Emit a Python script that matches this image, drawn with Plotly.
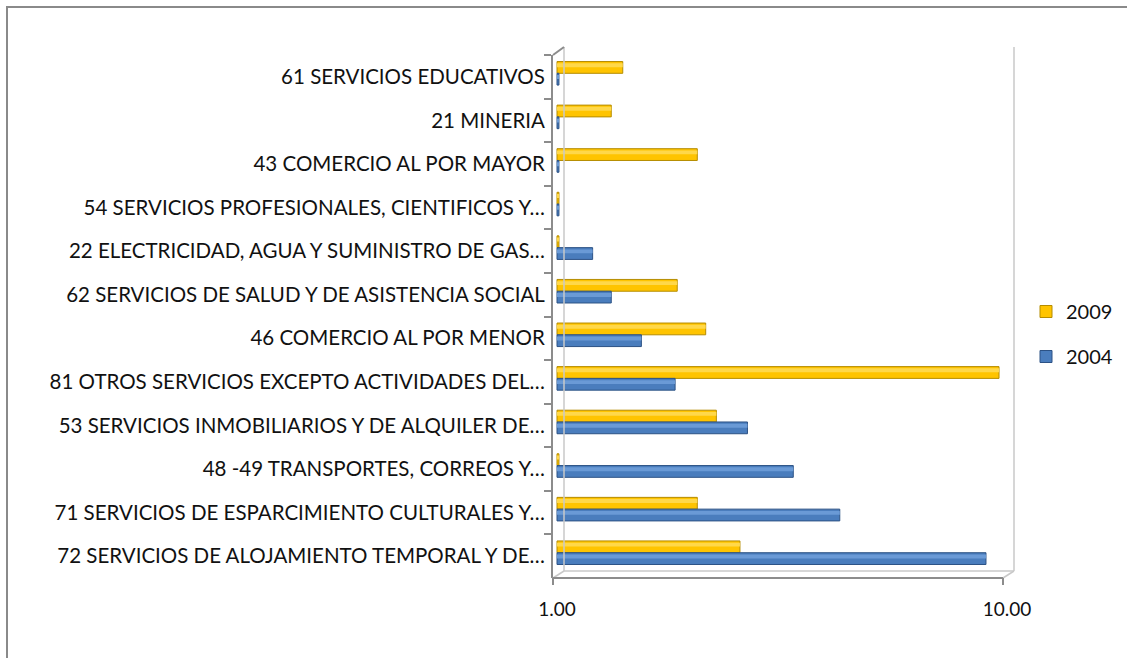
import plotly.graph_objects as go

# Sectors, listed top to bottom
categories = [
    "61 SERVICIOS EDUCATIVOS",
    "21 MINERIA",
    "43 COMERCIO AL POR MAYOR",
    "54 SERVICIOS PROFESIONALES, CIENTIFICOS Y…",
    "22 ELECTRICIDAD, AGUA Y SUMINISTRO DE GAS…",
    "62 SERVICIOS DE SALUD Y DE ASISTENCIA SOCIAL",
    "46 COMERCIO AL POR MENOR",
    "81 OTROS SERVICIOS EXCEPTO ACTIVIDADES DEL…",
    "53 SERVICIOS INMOBILIARIOS Y DE ALQUILER DE…",
    "48 -49 TRANSPORTES, CORREOS Y…",
    "71 SERVICIOS DE ESPARCIMIENTO CULTURALES Y…",
    "72 SERVICIOS DE ALOJAMIENTO TEMPORAL Y DE…",
]
values_2009 = [1.40, 1.32, 2.05, 1.01, 1.01, 1.85, 2.14, 9.60, 2.26, 1.01, 2.05, 2.55]
values_2004 = [1.01, 1.01, 1.01, 1.01, 1.20, 1.32, 1.54, 1.83, 2.65, 3.35, 4.25, 8.98]
x_tick_values = [1, 10]
x_tick_labels = ["1.00", "10.00"]

W, H = 1127, 658
L, R, T, B = 553, 1014, 55, 578   # plot area in pixels


def px(x):
    return (x - L) / (R - L)


def py(y):
    return (B - y) / (B - T)


FONT = "Lato"


def cylinder(name, values, offset, base_color, edge_color, light_color, group):
    """A bar with a lighter stripe on top to give it a rounded look."""
    size = [v - 1 for v in values]
    body = go.Bar(
        name=name, y=categories, x=size, base=1, orientation="h",
        offset=offset, width=0.27,
        marker=dict(color=base_color, line=dict(color=edge_color, width=1)),
        legendgroup=group,
    )
    shine = go.Bar(
        y=categories, x=size, base=1, orientation="h",
        offset=offset + 0.04, width=0.09,
        marker=dict(color=light_color, line=dict(width=0)),
        legendgroup=group, showlegend=False, hoverinfo="skip",
    )
    return [body, shine]


fig = go.Figure()
for tr in cylinder("2009", values_2009, -0.35, "#FFC400", "#B58C00", "#FFD84A", "a"):
    fig.add_trace(tr)
for tr in cylinder("2004", values_2004, -0.08, "#4A7DBD", "#2C5285", "#6A9AD6", "b"):
    fig.add_trace(tr)

frame_back = dict(color="#C8C8C8", width=1.5)
frame_front = dict(color="#8C8C8C", width=2)
shapes = [
    # outer chart border
    dict(type="rect", xref="paper", yref="paper",
         x0=px(7), x1=px(1135), y0=py(7), y1=py(670),
         line=dict(color="#8A8A8A", width=2)),
    # back wall and floor edges
    dict(type="line", xref="paper", yref="paper",
         x0=px(564), x1=px(564), y0=py(47), y1=py(571), line=frame_back),
    dict(type="line", xref="paper", yref="paper",
         x0=px(553), x1=px(564), y0=py(55), y1=py(47), line=frame_front),
    dict(type="line", xref="paper", yref="paper",
         x0=px(1014), x1=px(1014), y0=py(47), y1=py(571), line=frame_back),
    dict(type="line", xref="paper", yref="paper",
         x0=px(564), x1=px(1014), y0=py(571), y1=py(571), line=frame_back),
    dict(type="line", xref="paper", yref="paper",
         x0=px(553), x1=px(564), y0=py(578), y1=py(571), line=frame_back),
    dict(type="line", xref="paper", yref="paper",
         x0=px(1003), x1=px(1014), y0=py(578), y1=py(571), line=frame_back),
    # front value axis
    dict(type="line", xref="paper", yref="paper",
         x0=px(553), x1=px(1003), y0=py(578), y1=py(578), line=frame_front),
    dict(type="line", xref="paper", yref="paper",
         x0=px(553), x1=px(553), y0=py(578), y1=py(585), line=frame_front),
    dict(type="line", xref="paper", yref="paper",
         x0=px(1003), x1=px(1003), y0=py(578), y1=py(585), line=frame_front),
]

fig.update_layout(
    width=W, height=H,
    margin=dict(l=L, r=W - R, t=T, b=H - B, pad=0, autoexpand=False),
    paper_bgcolor="white", plot_bgcolor="rgba(0,0,0,0)",
    barmode="overlay",
    font=dict(family=FONT, size=20, color="#111111"),
    showlegend=True,
    legend=dict(x=px(1026), y=py(292), xanchor="left", yanchor="top",
                font=dict(size=20), tracegroupgap=16, traceorder="grouped",
                itemwidth=30, bgcolor="rgba(0,0,0,0)"),
    shapes=shapes,
    xaxis=dict(type="log", range=[-4 / 450, 461 / 450 - 4 / 450],
               tickvals=x_tick_values, ticktext=x_tick_labels,
               showgrid=False, zeroline=False, showline=False,
               ticks="", ticklabelstandoff=18, tickfont=dict(size=19)),
    yaxis=dict(type="category", autorange="reversed",
               showgrid=False, showline=True, linecolor="#8C8C8C", linewidth=2,
               ticks="outside", ticklen=7, tickcolor="#8C8C8C", tickwidth=2,
               tickson="boundaries", ticklabelstandoff=2,
               tickfont=dict(size=20.5)),
)

fig.write_html("out.html")
